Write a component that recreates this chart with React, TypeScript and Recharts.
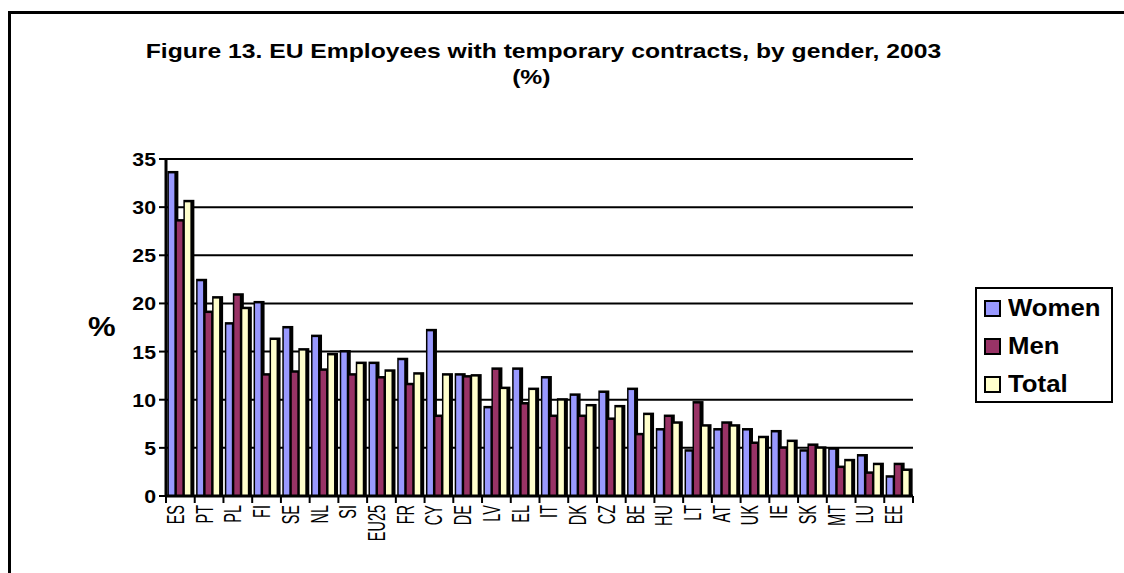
import { BarChart, Bar, XAxis, YAxis, CartesianGrid } from 'recharts';

const countries = ['ES', 'PT', 'PL', 'FI', 'SE', 'NL', 'SI', 'EU25', 'FR', 'CY', 'DE', 'LV', 'EL', 'IT', 'DK', 'CZ', 'BE', 'HU', 'LT', 'AT', 'UK', 'IE', 'SK', 'MT', 'LU', 'EE'];
const women = [33.5, 22.3, 17.8, 20.0, 17.4, 16.5, 14.9, 13.7, 14.1, 17.1, 12.5, 9.1, 13.1, 12.2, 10.4, 10.7, 11.0, 6.8, 4.6, 6.8, 6.8, 6.6, 4.6, 4.8, 4.1, 1.9];
const men = [28.5, 19.0, 20.8, 12.5, 12.8, 13.0, 12.5, 12.2, 11.5, 8.2, 12.3, 13.1, 9.5, 8.2, 8.2, 7.9, 6.3, 8.2, 9.6, 7.5, 5.4, 4.9, 5.2, 2.9, 2.3, 3.2];
const total = [30.5, 20.5, 19.4, 16.2, 15.1, 14.6, 13.7, 12.9, 12.6, 12.5, 12.4, 11.1, 11.0, 9.9, 9.3, 9.2, 8.4, 7.5, 7.2, 7.2, 6.0, 5.6, 4.9, 3.6, 3.2, 2.6];
const yTicks = [0, 5, 10, 15, 20, 25, 30, 35];

const SERIES = [
  { key: 'Women', color: '#9999FF' },
  { key: 'Men', color: '#993366' },
  { key: 'Total', color: '#FFFFCC' },
];

const data = countries.map((c, i) => ({ country: c, Women: women[i], Men: men[i], Total: total[i] }));

const FONT = '"Liberation Sans", Arial, sans-serif';
const PLOT_L = 166;
const PLOT_R = 913;
const BAND = (PLOT_R - PLOT_L) / countries.length;

function Bar3D(props: any) {
  const { x, y, width, height, fill } = props;
  if (!height || height <= 0) return null;
  return (
    <g>
      <rect x={x - 1.5} y={y - 2.5} width={width + 3} height={height + 2.5} fill="#000" />
      <rect x={x} y={y} width={width - 2.5} height={height} fill={fill} />
    </g>
  );
}

function YTick(props: any) {
  const { x, y, payload } = props;
  return (
    <text
      transform={`translate(${x},${y + 7}) scale(1.12,1)`}
      textAnchor="end"
      fontFamily={FONT}
      fontSize={19}
      fontWeight="bold"
      fill="#000"
    >
      {payload.value}
    </text>
  );
}

function XTick(props: any) {
  const { x, y, payload, index } = props;
  const last = index === countries.length - 1;
  return (
    <g>
      <line x1={x - BAND / 2} x2={x - BAND / 2} y1={y} y2={y + 7} stroke="#000" strokeWidth={2} />
      {last && <line x1={x + BAND / 2} x2={x + BAND / 2} y1={y} y2={y + 7} stroke="#000" strokeWidth={2} />}
      <text
        transform={`translate(${x + 3.5},${y + 9}) rotate(-90) scale(1,1.6)`}
        textAnchor="end"
        fontFamily={FONT}
        fontSize={14.5}
        fill="#000"
      >
        {payload.value}
      </text>
    </g>
  );
}

const stretch = (s: number) => ({ display: 'inline-block', transform: `scaleX(${s})` });

export default function App() {
  return (
    <div style={{ position: 'absolute', left: 0, top: 0, width: 1124, height: 573, overflow: 'hidden', background: '#fff', fontFamily: FONT }}>
      <div style={{ position: 'absolute', left: 8, top: 11, width: 1200, height: 700, borderLeft: '3px solid #000', borderTop: '3px solid #000' }} />
      <div style={{ position: 'absolute', left: 0, width: 1087, top: 39, textAlign: 'center', fontSize: 21, fontWeight: 'bold' }}>
        <span style={stretch(1.175)}>Figure 13. EU Employees with temporary contracts, by gender, 2003</span>
      </div>
      <div style={{ position: 'absolute', left: 0, width: 1062, top: 65, textAlign: 'center', fontSize: 21, fontWeight: 'bold' }}>
        <span style={stretch(1.175)}>(%)</span>
      </div>
      <div style={{ position: 'absolute', left: 88, top: 312, fontSize: 27, fontWeight: 'bold', transform: 'scaleX(1.15)', transformOrigin: 'left' }}>%</div>

      <div style={{ position: 'absolute', left: 0, top: 0 }}>
        <BarChart
          width={1124}
          height={573}
          data={data}
          margin={{ top: 159, right: 1124 - PLOT_R, bottom: 0, left: PLOT_L - 70 }}
          barCategoryGap="10%"
          barGap={0}
        >
          <CartesianGrid horizontal vertical={false} stroke="#000" strokeWidth={2} />
          <XAxis
            dataKey="country"
            interval={0}
            height={77}
            tickLine={false}
            tickSize={0}
            tickMargin={0}
            axisLine={{ stroke: '#000', strokeWidth: 3 }}
            tick={<XTick />}
          />
          <YAxis
            width={70}
            domain={[0, 35]}
            ticks={yTicks}
            interval={0}
            tickSize={7}
            tickMargin={3}
            tickLine={{ stroke: '#000', strokeWidth: 2 }}
            axisLine={{ stroke: '#000', strokeWidth: 3 }}
            tick={<YTick />}
          />
          <YAxis
            yAxisId="right"
            orientation="right"
            width={0}
            domain={[0, 35]}
            tick={false}
            tickLine={false}
            axisLine={{ stroke: '#000', strokeWidth: 2 }}
          />
          {SERIES.map((s) => (
            <Bar key={s.key} dataKey={s.key} fill={s.color} shape={<Bar3D />} isAnimationActive={false} />
          ))}
        </BarChart>
      </div>

      <div style={{ position: 'absolute', left: 975, top: 287, width: 134, height: 112, border: '2px solid #000', background: '#fff' }}>
        {SERIES.map((s, i) => (
          <div key={s.key} style={{ position: 'absolute', left: 7, top: 5 + i * 38, height: 28, display: 'flex', alignItems: 'center' }}>
            <div style={{ width: 13, height: 13, background: s.color, border: '2px solid #000', marginRight: 7 }} />
            <span style={{ fontSize: 23, fontWeight: 'bold', lineHeight: '28px', display: 'inline-block', transform: 'scaleX(1.12)', transformOrigin: 'left' }}>{s.key}</span>
          </div>
        ))}
      </div>
    </div>
  );
}
